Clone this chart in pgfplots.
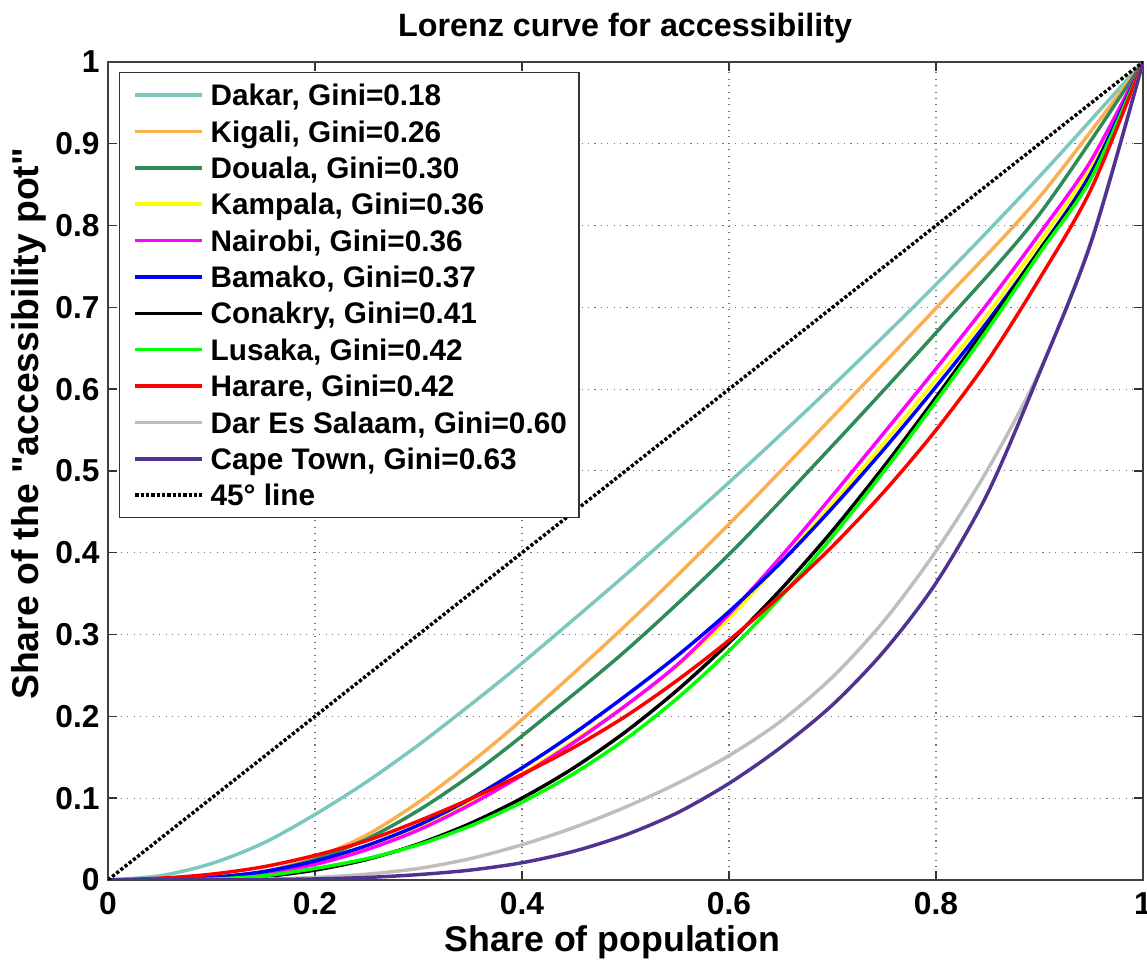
\documentclass[border=0pt]{standalone}
\usepackage{fontspec}
\setmainfont[Ligatures=TeXOff]{Liberation Sans}
\usepackage{pgfplots}
\pgfplotsset{compat=1.18}
\definecolor{cDakar}{RGB}{125,200,190}
\definecolor{cKigali}{RGB}{250,175,80}
\definecolor{cDouala}{RGB}{46,139,87}
\definecolor{cKampala}{RGB}{255,255,0}
\definecolor{cNairobi}{RGB}{255,0,255}
\definecolor{cBamako}{RGB}{0,0,255}
\definecolor{cConakry}{RGB}{0,0,0}
\definecolor{cLusaka}{RGB}{0,255,0}
\definecolor{cHarare}{RGB}{255,0,0}
\definecolor{cDar}{RGB}{190,190,190}
\definecolor{cCape}{RGB}{80,50,145}
\newcommand\tickfont{\fontsize{11.9}{14}\selectfont\bfseries}
\newcommand\legfont{\fontsize{11.15}{13}\selectfont\bfseries}
\newcommand\labfont{\fontsize{13.4}{16}\selectfont\bfseries}
\newcommand\ylabfont{\fontsize{14}{16}\selectfont\bfseries}
\newcommand\titfont{\fontsize{12.1}{14}\selectfont\bfseries}
\begin{document}
\begin{tikzpicture}
\begin{axis}[
  name=ax, at={(0,0)}, anchor=south west,
  width=388.1pt, height=306.7pt, scale only axis,
  xmin=0, xmax=1, ymin=0, ymax=1,
  xtick={0,0.2,0.4,0.6,0.8,1},
  xticklabels={0,0.2,0.4,0.6,0.8,1},
  ytick={0,0.1,0.2,0.3,0.4,0.5,0.6,0.7,0.8,0.9,1},
  yticklabels={0,0.1,0.2,0.3,0.4,0.5,0.6,0.7,0.8,0.9,1},
  grid=major,
  grid style={dotted, black!55, line width=0.4pt},
  tick align=inside, major tick length=3.5pt,
  tick style={black!80, line width=0.5pt},
  axis line style={black!75, line width=0.6pt},
  ticklabel style={font=\tickfont},
  xticklabel style={anchor=base, yshift=-13.1pt, inner sep=0pt},
  yticklabel style={anchor=east, inner sep=0pt, xshift=-3pt},
  legend cell align=left,
  legend style={at={(0,1)}, anchor=north west, xshift=4.1pt, yshift=-3.75pt,
    draw=black!80, line width=0.5pt, fill=white, font=\legfont,
    inner xsep=4.5pt, inner ysep=2.9pt, row sep=2.64pt, column sep=2.6pt,
    nodes={inner xsep=0pt, inner ysep=0pt, text height=9.5pt, text depth=1.5pt}},
  legend image code/.code={\path (0pt,0pt); \draw[#1] (0.75pt,0pt) -- (25.75pt,0pt);},
  every axis plot/.append style={line width=1.3pt, smooth, tension=0.5},
]
\addplot[cDakar] coordinates {(0,0) (0.05,0.005) (0.1,0.02) (0.15,0.045) (0.2,0.08) (0.25,0.12) (0.3,0.165) (0.35,0.214) (0.4,0.265) (0.5,0.373) (0.6,0.486) (0.7,0.604) (0.8,0.728) (0.9,0.86) (1,1)};
\addlegendentry{Dakar, Gini=0.18}
\addplot[cKigali] coordinates {(0,0) (0.05,0.0005) (0.1,0.003) (0.15,0.01) (0.2,0.027) (0.25,0.055) (0.3,0.095) (0.35,0.143) (0.4,0.196) (0.5,0.311) (0.6,0.435) (0.7,0.566) (0.8,0.699) (0.9,0.835) (1,1)};
\addlegendentry{Kigali, Gini=0.26}
\addplot[cDouala] coordinates {(0,0) (0.05,0.0005) (0.1,0.003) (0.15,0.01) (0.2,0.025) (0.25,0.05) (0.3,0.085) (0.35,0.1275) (0.4,0.176) (0.5,0.28) (0.6,0.398) (0.7,0.531) (0.8,0.669) (0.9,0.814) (1,1)};
\addlegendentry{Douala, Gini=0.30}
\addplot[cKampala] coordinates {(0,0) (0.05,0.0006) (0.1,0.003) (0.15,0.009) (0.2,0.022) (0.25,0.04) (0.3,0.065) (0.35,0.095) (0.4,0.13) (0.45,0.17) (0.5,0.213) (0.55,0.262) (0.6,0.32) (0.65,0.388) (0.7,0.46) (0.75,0.535) (0.8,0.612) (0.85,0.692) (0.9,0.78) (0.95,0.873) (1,1)};
\addlegendentry{Kampala, Gini=0.36}
\addplot[cNairobi] coordinates {(0,0) (0.05,0.0005) (0.1,0.002) (0.15,0.008) (0.2,0.019) (0.25,0.037) (0.3,0.061) (0.35,0.092) (0.4,0.128) (0.45,0.168) (0.5,0.213) (0.55,0.263) (0.6,0.325) (0.65,0.395) (0.7,0.47) (0.75,0.547) (0.8,0.625) (0.85,0.705) (0.9,0.79) (0.95,0.88) (1,1)};
\addlegendentry{Nairobi, Gini=0.36}
\addplot[cBamako] coordinates {(0,0) (0.05,0.0006) (0.1,0.003) (0.15,0.01) (0.2,0.023) (0.25,0.042) (0.3,0.067) (0.35,0.099) (0.4,0.137) (0.45,0.179) (0.5,0.225) (0.55,0.274) (0.6,0.328) (0.65,0.388) (0.7,0.455) (0.75,0.527) (0.8,0.603) (0.85,0.683) (0.9,0.77) (0.95,0.865) (1,1)};
\addlegendentry{Bamako, Gini=0.37}
\addplot[cConakry] coordinates {(0,0) (0.05,0.0002) (0.1,0.001) (0.15,0.004) (0.2,0.012) (0.25,0.025) (0.3,0.044) (0.35,0.069) (0.4,0.1) (0.45,0.137) (0.5,0.181) (0.55,0.232) (0.6,0.29) (0.65,0.355) (0.7,0.427) (0.75,0.506) (0.8,0.59) (0.85,0.678) (0.9,0.77) (0.95,0.86) (1,1)};
\addlegendentry{Conakry, Gini=0.41}
\addplot[cLusaka] coordinates {(0,0) (0.05,0.0002) (0.1,0.001) (0.15,0.005) (0.2,0.014) (0.25,0.026) (0.3,0.043) (0.35,0.066) (0.4,0.095) (0.45,0.13) (0.5,0.172) (0.55,0.222) (0.6,0.28) (0.65,0.346) (0.7,0.42) (0.75,0.5) (0.8,0.585) (0.85,0.673) (0.9,0.766) (0.95,0.858) (1,1)};
\addlegendentry{Lusaka, Gini=0.42}
\addplot[cHarare] coordinates {(0,0) (0.05,0.002) (0.1,0.007) (0.15,0.016) (0.2,0.03) (0.25,0.048) (0.3,0.072) (0.35,0.099) (0.4,0.129) (0.45,0.162) (0.5,0.2) (0.55,0.244) (0.6,0.293) (0.65,0.348) (0.7,0.408) (0.75,0.475) (0.8,0.55) (0.85,0.635) (0.9,0.735) (0.95,0.845) (1,1)};
\addlegendentry{Harare, Gini=0.42}
\addplot[cDar] coordinates {(0,0) (0.1,0.0003) (0.15,0.001) (0.2,0.003) (0.25,0.007) (0.3,0.014) (0.35,0.026) (0.4,0.043) (0.45,0.064) (0.5,0.089) (0.55,0.118) (0.6,0.152) (0.65,0.194) (0.7,0.248) (0.75,0.317) (0.8,0.402) (0.85,0.502) (0.9,0.622) (0.95,0.782) (1,1)};
\addlegendentry{Dar Es Salaam, Gini=0.60}
\addplot[cCape] coordinates {(0,0) (0.1,0.0001) (0.15,0.0004) (0.2,0.0012) (0.25,0.003) (0.3,0.0065) (0.35,0.012) (0.4,0.021) (0.45,0.035) (0.5,0.055) (0.55,0.082) (0.6,0.118) (0.65,0.162) (0.7,0.214) (0.75,0.28) (0.8,0.363) (0.85,0.473) (0.9,0.62) (0.95,0.78) (1,1)};
\addlegendentry{Cape Town, Gini=0.63}
\addplot[black, line width=1.3pt, dash pattern=on 1.2pt off 0.8pt, sharp plot] coordinates {(0,0) (1,1)};
\addlegendentry{45° line}
\end{axis}
\node[anchor=base, font=\titfont] at (193.9pt,316.2pt) {Lorenz curve for accessibility};
\node[anchor=base, font=\labfont] at (189.2pt,-27pt) {Share of population};
\node[anchor=base, rotate=90, font=\ylabfont] at (-25.9pt,171pt) {Share of the "accessibility pot"};
\pgfresetboundingbox
\path[use as bounding box] (-40.5pt,-30.4pt) rectangle (389.6pt,329.95pt);
\end{tikzpicture}
\end{document}
